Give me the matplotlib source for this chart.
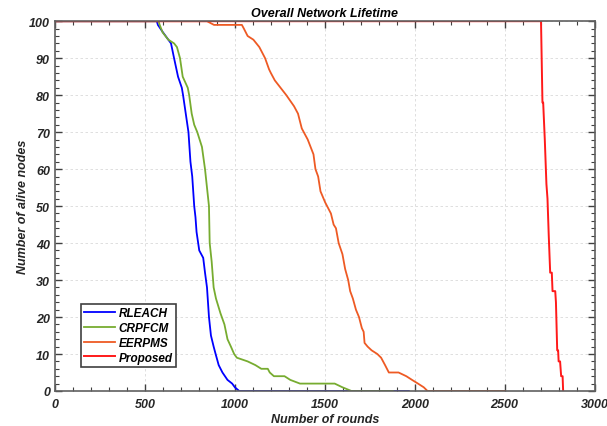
import matplotlib
matplotlib.use("Agg")
import matplotlib.pyplot as plt
from matplotlib.ticker import MultipleLocator

plt.rcParams['font.family'] = ['Liberation Sans', 'DejaVu Sans']
plt.rcParams['font.weight'] = 'bold'
plt.rcParams['font.style'] = 'italic'
plt.rcParams['axes.titleweight'] = 'bold'
plt.rcParams['axes.labelweight'] = 'bold'

# RLEACH
rleach_x = [0, 566, 572, 600, 630, 645, 662, 684, 705, 712, 727, 742, 753, 763, 774, 781,
            787, 802, 824, 834, 845, 856, 867, 882, 893, 910, 931, 959, 985, 1000, 1024, 1967]
rleach_y = [100, 100, 99, 97, 95, 94, 90, 85, 82, 80, 75, 70, 62, 58, 50, 47,
            43, 38, 36, 32, 28, 20, 15, 12, 10, 7, 5, 3, 2, 1, 0, 0]

# CRPFCM
crpfcm_x = [0, 576, 582, 598, 630, 662, 678, 695, 710, 738, 746, 760, 774, 791, 817, 834,
            845, 856, 860, 871, 882, 895, 920, 942, 959, 978, 996, 1011, 1071, 1114, 1147,
            1183, 1194, 1217, 1276, 1308, 1362, 1555, 1598, 1648, 1878]
crpfcm_y = [100, 100, 99, 97, 95, 94, 93, 90, 85, 82, 80, 75, 72, 70, 66, 60,
            55, 50, 40, 35, 28, 25, 21, 18, 14, 12, 10, 9, 8, 7, 6,
            6, 5, 4, 4, 3, 2, 2, 1, 0, 0]

# EERPMS
eerpms_x = [0, 845, 884, 1039, 1050, 1071, 1103, 1136, 1168, 1190, 1200, 1222, 1254, 1286,
            1329, 1351, 1372, 1405, 1437, 1448, 1463, 1476, 1502, 1534, 1549, 1562, 1577,
            1598, 1613, 1630, 1641, 1656, 1673, 1690, 1706, 1716, 1721, 1738, 1760, 1792,
            1813, 1835, 1856, 1910, 1953, 1985, 2018, 2050, 2071, 2500]
eerpms_y = [100, 100, 99, 99, 98, 96, 95, 93, 90, 87, 86, 84, 82, 80,
            77, 75, 71, 68, 64, 60, 58, 54, 51, 48, 45, 44, 40,
            37, 33, 30, 27, 25, 22, 20, 17, 16, 13, 12, 11, 10,
            9, 7, 5, 5, 4, 3, 2, 1, 0, 0]

# Proposed
prop_x = [0, 2702, 2710, 2714, 2723, 2732, 2738, 2745, 2753, 2762, 2766, 2781, 2785,
          2792, 2797, 2800, 2808, 2814, 2822, 2825]
prop_y = [100, 100, 78, 78, 68, 56, 52, 42, 32, 32, 27, 27, 24,
          11, 11, 8, 8, 4, 4, 0]

fig = plt.figure(figsize=(6.07, 4.27), dpi=100)
ax = fig.add_axes([0.0906, 0.082, 0.889, 0.866])

ax.plot(rleach_x, rleach_y, color='#0000FF', lw=1.3, label='RLEACH')
ax.plot(crpfcm_x, crpfcm_y, color='#77AC30', lw=1.3, label='CRPFCM')
ax.plot(eerpms_x, eerpms_y, color='#EE5A24', lw=1.3, label='EERPMS')
ax.plot(prop_x, prop_y, color='#FF1A1A', lw=1.4, label='Proposed')

ax.set_xlim(0, 3000)
ax.set_ylim(0, 100)
ax.xaxis.set_major_locator(MultipleLocator(500))
ax.xaxis.set_minor_locator(MultipleLocator(100))
ax.yaxis.set_major_locator(MultipleLocator(10))
ax.yaxis.set_minor_locator(MultipleLocator(2))
ax.tick_params(which='both', direction='in', top=True, right=True, colors='#404040',
               labelcolor='#262626', labelsize=9)
ax.tick_params(axis='x', pad=5)
ax.tick_params(which='major', length=5, width=1)
ax.tick_params(which='minor', length=3, width=0.8)
ax.grid(True, which='major', linestyle=(0, (3, 3)), color='#d9d9d9', lw=0.6)
for s in ax.spines.values():
    s.set_color('#606060')
    s.set_linewidth(1.2)

ax.set_title('Overall Network Lifetime', fontsize=9, pad=4)
ax.set_xlabel('Number of rounds', fontsize=9, labelpad=2, color='#262626')
ax.set_ylabel('Number of alive nodes', fontsize=9, labelpad=0, color='#262626')

leg = ax.legend(loc='lower left', bbox_to_anchor=(0.048, 0.066), fontsize=8.5, fancybox=False,
                framealpha=1, edgecolor='#404040', borderpad=0.25, labelspacing=0.25,
                handlelength=2.6, handletextpad=0.35, borderaxespad=0)
leg.get_frame().set_linewidth(1.2)

fig.savefig('out.png', dpi=100)
